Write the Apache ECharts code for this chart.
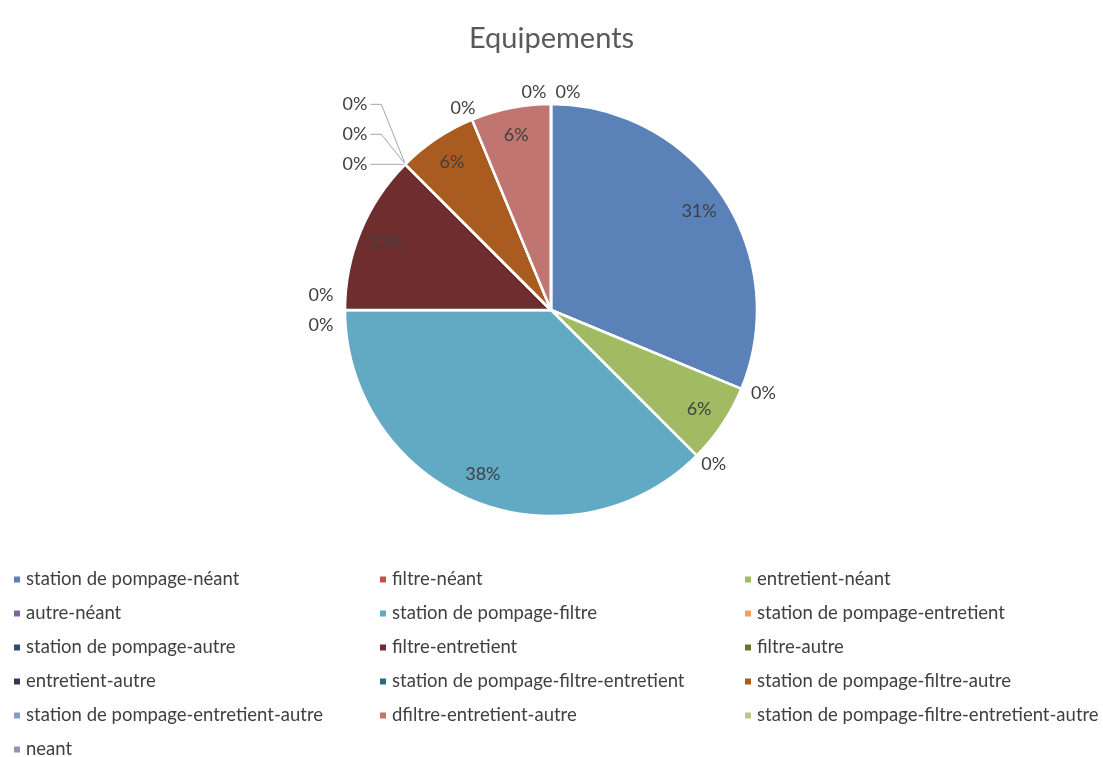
<!DOCTYPE html>
<html>
<head>
<meta charset="utf-8">
<script src="https://cdn.jsdelivr.net/npm/echarts@6/dist/echarts.min.js"></script>
<style>
html,body{margin:0;padding:0;background:#fff;}
#chart{width:1103px;height:757px;}
</style>
</head>
<body>
<div id="chart"></div>
<script>
const chartTitle = 'Equipements';
const categories = [
  'station de pompage-néant', 'filtre-néant', 'entretient-néant',
  'autre-néant', 'station de pompage-filtre', 'station de pompage-entretient',
  'station de pompage-autre', 'filtre-entretient', 'filtre-autre',
  'entretient-autre', 'station de pompage-filtre-entretient', 'station de pompage-filtre-autre',
  'station de pompage-entretient-autre', 'dfiltre-entretient-autre', 'station de pompage-filtre-entretient-autre',
  'neant'
];
const counts = [5, 0, 1, 0, 6, 0, 0, 2, 0, 0, 0, 1, 0, 1, 0, 0];
const colors = [
  '#5A81B8', '#C0504D', '#A0BB62', '#8064A2', '#62A9C3', '#EFA062',
  '#2C4D75', '#6F2D2D', '#5F7530', '#3E3556', '#2F6A7A', '#A95B20',
  '#7F9FCC', '#C07571', '#B5C98A', '#9A90B5'
];

const total = counts.reduce((a, b) => a + b, 0);
const pct = v => Math.round(v / total * 100) + '%';

const center = [551, 310];
const R = 206;

// runs of consecutive zero-valued slices (they share the same angle)
const runStart = [], runLen = [];
counts.forEach((v, i) => {
  if (v !== 0) { runStart.push(-1); runLen.push(0); return; }
  let s = i, e = i;
  while (s > 0 && counts[s - 1] === 0) s--;
  while (e < counts.length - 1 && counts[e + 1] === 0) e++;
  runStart.push(s); runLen.push(e - s + 1);
});
// angle (math convention, radians) at the middle of each slice
const midAngle = [];
(function () {
  let cum = 0;
  counts.forEach(v => {
    midAngle.push(Math.PI / 2 - 2 * Math.PI * (cum + v / 2) / total);
    cum += v;
  });
})();

const mainData = categories.map((name, i) => ({
  name: name,
  value: counts[i],
  itemStyle: { color: colors[i] },
  label: { show: counts[i] === 0 },
  labelLine: { show: runLen[i] >= 3, length: 6, length2: 6 }
}));

const ringData = categories.map((name, i) => ({
  name: name,
  value: counts[i],
  label: { show: counts[i] > 0 }
}));

function zeroLabelLayout(params) {
  const i = params.dataIndex;
  const n = runLen[i];
  if (!n) return {};
  const a = midAngle[i];
  const ux = Math.cos(a), uy = -Math.sin(a);
  const ex = center[0] + R * ux, ey = center[1] + R * uy;
  const k = i - runStart[i];
  const px = ex + ux * 24, py = ey + uy * 12;
  if (n === 1) {
    return { x: px, y: py, align: 'center', verticalAlign: 'middle' };
  }
  if (n === 2) {
    const tx = -uy, ty = ux; // tangent
    const s = k === 0 ? 1 : -1;
    return { x: px + s * tx * 17, y: py + s * ty * 15, align: 'center', verticalAlign: 'middle' };
  }
  // longer runs: stack upward with leader lines
  const w = params.labelRect.width;
  const right = ex - 38;
  const y = ey - (n - 1 - k) * 30;
  return {
    x: right - w / 2, y: y, align: 'center', verticalAlign: 'middle',
    labelLinePoints: [[ex, ey], [right + 14, y], [right + 3, y]]
  };
}

const font = 'Lato, "Open Sans", sans-serif';
const legendCols = [12, 378, 743];
const legends = legendCols.map((left, c) => ({
  orient: 'vertical',
  left: left,
  top: 570,
  height: 200,
  padding: 0,
  itemWidth: 8,
  itemHeight: 8,
  icon: 'rect',
  itemGap: 15,
  selectedMode: false,
  textStyle: { fontFamily: font, fontSize: 18.5, color: '#404040', lineHeight: 18 },
  data: categories.filter((_, i) => i % 3 === c)
}));

const chart = echarts.init(document.getElementById('chart'));
chart.setOption({
  backgroundColor: '#fff',
  animation: false,
  title: {
    text: chartTitle,
    left: 'center',
    top: 19,
    textStyle: { fontFamily: font, fontSize: 29, fontWeight: 'normal', color: '#595959' }
  },
  legend: legends,
  series: [
    {
      type: 'pie',
      center: center,
      radius: [0, R],
      startAngle: 90,
      clockwise: true,
      silent: true,
      avoidLabelOverlap: false,
      itemStyle: { borderColor: '#ffffff', borderWidth: 2.5 },
      label: {
        position: 'outside',
        fontFamily: font,
        fontSize: 18,
        color: '#404040',
        formatter: p => pct(p.value)
      },
      labelLine: { lineStyle: { color: '#A6A6A6', width: 1 } },
      labelLayout: zeroLabelLayout,
      data: mainData
    },
    {
      type: 'pie',
      center: center,
      radius: [R * 0.7, R],
      startAngle: 90,
      clockwise: true,
      silent: true,
      itemStyle: { color: 'rgba(0,0,0,0)', borderWidth: 0 },
      label: {
        position: 'inside',
        fontFamily: font,
        fontSize: 18,
        color: '#404040',
        formatter: p => pct(p.value)
      },
      labelLine: { show: false },
      data: ringData
    }
  ]
});
</script>
</body>
</html>
